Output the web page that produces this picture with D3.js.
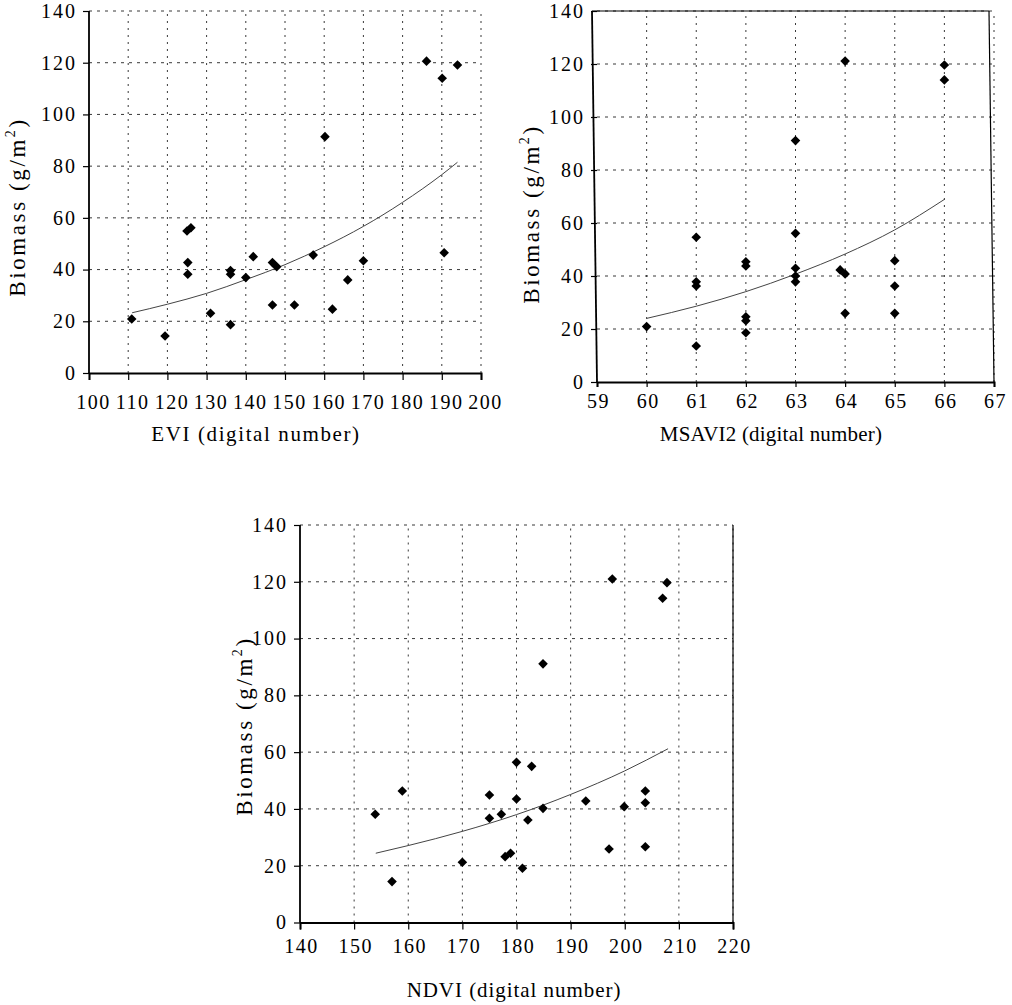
<!DOCTYPE html>
<html><head><meta charset="utf-8">
<script src="https://cdnjs.cloudflare.com/ajax/libs/d3/7.8.5/d3.min.js"></script>
<style>
body{margin:0;background:#fff;}
svg text{font-family:"Liberation Serif";fill:#000;}
</style></head><body>
<svg id="c" width="1012" height="1005"></svg>
<script>
// ---------- data ----------
const yTicks = [0,20,40,60,80,100,120,140];
const eviTicks = [100,110,120,130,140,150,160,170,180,190,200];
const msaviTicks = [59,60,61,62,63,64,65,66,67];
const ndviTicks = [140,150,160,170,180,190,200,210,220];

const eviX = [186.1,190.1,194.0,160.2,110.9,119.4,125.0,126.0,125.2,125.2,131.0,136.1,136.1,136.1,140.0,141.9,146.8,147.9,146.8,152.4,157.2,162.1,166.0,170.0,190.6];
const eviY = [120.6,114.0,119.1,91.4,20.9,14.3,54.9,56.2,42.7,38.2,23.1,39.6,38.2,18.7,36.9,45.0,42.7,41.1,26.3,26.3,45.6,24.7,36.0,43.4,46.5];
const eviTrendX = [111,120,130,140,150,160,170,180,190,194];
const eviTrendY = [23.3,26.6,30.8,36.1,41.9,48.8,56.7,66.0,76.7,81.5];

const msaviX = [64,66,66,63,60,61,61,61,61,62,62,62,62,62,63,63,63,63,63.9,64,64,65,65,65];
const msaviY = [121.1,119.6,114.0,91.1,20.9,54.6,37.8,36.2,13.6,45.4,43.8,24.6,23.1,18.6,56.1,42.9,40.0,37.8,42.3,40.8,25.9,45.8,36.2,25.9];
const msaviTrendX = [60,61,62,63,64,65,66];
const msaviTrendY = [24.0,28.6,34.1,40.7,48.3,57.4,68.9];

const ndviX = [197.7,207.8,207.0,184.9,153.9,157.0,158.9,170.0,175.0,175.0,177.2,177.9,178.9,180.0,180.0,181.1,182.1,182.8,184.9,192.8,197.1,199.9,203.8,203.8,203.8];
const ndviY = [121.0,119.7,114.2,91.1,38.1,14.4,46.3,21.2,44.9,36.7,38.1,23.2,24.4,56.4,43.5,19.1,36.1,55.0,40.2,42.8,25.9,40.8,46.3,42.2,26.7];
const ndviTrendX = [154,160,170,180,190,200,208];
const ndviTrendY = [24.4,27.1,32.1,38.0,45.1,53.4,61.2];

const xTitles = ["EVI (digital number)","MSAVI2 (digital number)","NDVI (digital number)"];
const yTitle = "Biomass (g/m";

// ---------- layout ----------
const svg = d3.select("#c");
const FONT = "Liberation Serif";
const panels = [
  {xs:eviX, ys:eviY, tx:eviTrendX, ty:eviTrendY, ticks:eviTicks, title:xTitles[0],
   xr:[89,481], yr:[373,11], xTickLen:7, xPad:15, xDx:4, yPad:6, titleLS:1.6,
   titlePos:[256,441], yLabPos:[25,207], topSolid:false, rightSolid:false, skew:0},
  {xs:msaviX, ys:msaviY, tx:msaviTrendX, ty:msaviTrendY, ticks:msaviTicks, title:xTitles[1],
   xr:[597,994], yr:[382,11], xTickLen:5, xPad:7, xDx:1, yPad:6, titleLS:0.2,
   titlePos:[771,441], yLabPos:[539,214], topSolid:true, rightSolid:true, skew:-5},
  {xs:ndviX, ys:ndviY, tx:ndviTrendX, ty:ndviTrendY, ticks:ndviTicks, title:xTitles[2],
   xr:[300,733], yr:[922.5,525], xTickLen:7, xPad:9, xDx:1, yPad:6, titleLS:0.95,
   titlePos:[514,997], yLabPos:[252,726], topSolid:false, rightSolid:true, skew:0}
];

panels.forEach(p => {
  const g = svg.append("g");
  const x = d3.scaleLinear().domain([p.ticks[0], p.ticks[p.ticks.length-1]]).range(p.xr);
  const y = d3.scaleLinear().domain([0,140]).range(p.yr);

  // grid
  g.append("g").selectAll("line").data(yTicks.slice(1)).join("line")
    .attr("x1", p.xr[0]).attr("x2", p.xr[1])
    .attr("y1", d => y(d)).attr("y2", d => y(d))
    .attr("stroke", "#222").attr("stroke-width", 0.9).attr("stroke-dasharray", "3,5");
  g.append("g").selectAll("line").data(p.ticks.slice(1)).join("line")
    .attr("x1", d => x(d)).attr("x2", d => x(d))
    .attr("y1", p.yr[0]).attr("y2", p.yr[1])
    .attr("stroke", "#222").attr("stroke-width", 0.9).attr("stroke-dasharray", "2,5");

  // borders
  if (p.topSolid) g.append("line").attr("x1", p.xr[0]+p.skew).attr("x2", p.xr[1]+p.skew)
    .attr("y1", p.yr[1]).attr("y2", p.yr[1]).attr("stroke", "#000").attr("stroke-width", 1.2);
  if (p.rightSolid) g.append("line").attr("x1", p.xr[1]+p.skew).attr("x2", p.xr[1])
    .attr("y1", p.yr[1]).attr("y2", p.yr[0]).attr("stroke", "#000").attr("stroke-width", 1.2);

  // x axis
  const xa = g.append("g").attr("transform", `translate(0,${p.yr[0]})`)
    .call(d3.axisBottom(x).tickValues(p.ticks).tickSize(p.xTickLen).tickPadding(p.xPad).tickFormat(d3.format("d")));
  xa.attr("font-family", FONT).attr("font-size", 20);
  xa.select(".domain").attr("stroke", "#000").attr("stroke-width", 2);
  xa.selectAll(".tick line").attr("stroke", "#000").attr("stroke-width", 1.2);
  xa.selectAll(".tick text").attr("x", p.xDx).style("letter-spacing", "1.5px");

  // y axis
  const ya = g.append("g").attr("transform", `translate(${p.xr[0]},0)`)
    .call(d3.axisLeft(y).tickValues(yTicks).tickSize(6).tickPadding(p.yPad).tickFormat(d3.format("d")));
  ya.attr("font-family", FONT).attr("font-size", 20);
  ya.select(".domain").remove();
  ya.selectAll(".tick line").attr("stroke", "#000").attr("stroke-width", 1.2);
  ya.selectAll(".tick text").style("letter-spacing", "2px");
  g.append("line").attr("x1", p.xr[0]+p.skew).attr("x2", p.xr[0])
    .attr("y1", p.yr[1]).attr("y2", p.yr[0]).attr("stroke", "#000").attr("stroke-width", 1.8);

  // trend line
  const line = d3.line().x(d => x(d[0])).y(d => y(d[1])).curve(d3.curveMonotoneX);
  g.append("path").datum(p.tx.map((v,i) => [v, p.ty[i]]))
    .attr("d", line).attr("fill", "none").attr("stroke", "#444").attr("stroke-width", 1);

  // points
  g.append("g").selectAll("path").data(p.xs.map((v,i) => [v, p.ys[i]])).join("path")
    .attr("d", d3.symbol(d3.symbolSquare, 46))
    .attr("transform", d => `translate(${x(d[0])},${y(d[1])}) rotate(45)`)
    .attr("fill", "#000");

  // x title
  g.append("text").attr("transform", `translate(${p.titlePos[0]},${p.titlePos[1]})`)
    .attr("text-anchor", "middle").attr("font-size", 21).style("letter-spacing", p.titleLS + "px").text(p.title);

  // y title
  const yt = g.append("text")
    .attr("transform", `translate(${p.yLabPos[0]},${p.yLabPos[1]}) rotate(-90)`)
    .attr("text-anchor", "middle").attr("font-size", 23).style("letter-spacing", "2.6px");
  yt.append("tspan").text(yTitle);
  yt.append("tspan").attr("font-size", 14).attr("dy", -10).text("2");
  yt.append("tspan").attr("dy", 10).text(")");
});
</script>
</body></html>
